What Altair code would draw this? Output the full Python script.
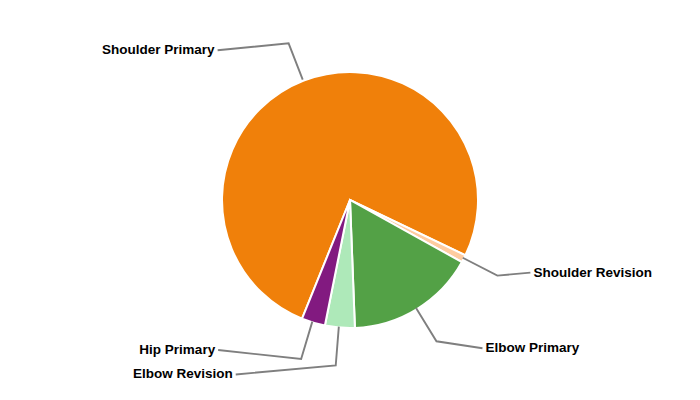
import math
import altair as alt
import pandas as pd

# ---- data ----
categories = ["Shoulder Primary", "Shoulder Revision", "Elbow Primary", "Elbow Revision", "Hip Primary"]
values = [76.0, 0.95, 16.33, 3.75, 2.97]
colors = ["#F0800A", "#FFCCA0", "#53A146", "#AEE9B9", "#821A80"]

# ---- layout ----
W, H = 684, 384
CX, CY = W / 2 - 1, H / 2 - 1
R = 128
R_ELBOW = 167
START_DEG = 202
# label anchor offsets from the elbow point (dx, dy), pixels
label_offsets = [(-71, 7), (33, -3), (46, 7), (-100, 9), (-83, -9)]

total = sum(values)
start = math.radians(START_DEG)

rows_line = []
rows_text = []
cum = 0.0
for i, (cat, v) in enumerate(zip(categories, values)):
    mid = start + (cum + v / 2) / total * 2 * math.pi
    cum += v
    sx, sy = CX + R * math.sin(mid), CY - R * math.cos(mid)
    ex, ey = CX + R_ELBOW * math.sin(mid), CY - R_ELBOW * math.cos(mid)
    dx, dy = label_offsets[i]
    lx, ly = ex + dx, ey + dy
    for k, (px, py) in enumerate([(sx, sy), (ex, ey), (lx, ly)]):
        rows_line.append({"cat": cat, "k": k, "px": px, "py": py})
    right = dx > 0
    rows_text.append({"cat": cat, "px": lx + (3 if right else -3), "py": ly, "right": right})

df = pd.DataFrame({"cat": categories, "value": values, "order": list(range(len(categories)))})
df_line = pd.DataFrame(rows_line)
df_text = pd.DataFrame(rows_text)

xs = alt.Scale(domain=[0, W], range=[0, W])
ys = alt.Scale(domain=[0, H], range=[0, H])

pie = alt.Chart(df).mark_arc(outerRadius=R, stroke="white", strokeWidth=2).encode(
    theta=alt.Theta("value:Q", stack=True,
                    scale=alt.Scale(range=[start, start + 2 * math.pi])),
    order=alt.Order("order:Q"),
    color=alt.Color("cat:N", scale=alt.Scale(domain=categories, range=colors), legend=None),
)

lines = alt.Chart(df_line).mark_line(color="#7F7F7F", strokeWidth=1.9).encode(
    x=alt.X("px:Q", scale=xs, axis=None),
    y=alt.Y("py:Q", scale=ys, axis=None),
    detail="cat:N",
    order="k:Q",
)

text_r = alt.Chart(df_text[df_text.right]).mark_text(
    align="left", baseline="middle", font="Liberation Sans", fontSize=13.5,
    fontWeight="bold", color="black"
).encode(x=alt.X("px:Q", scale=xs, axis=None), y=alt.Y("py:Q", scale=ys, axis=None), text="cat:N")

text_l = alt.Chart(df_text[~df_text.right]).mark_text(
    align="right", baseline="middle", font="Liberation Sans", fontSize=13.5,
    fontWeight="bold", color="black"
).encode(x=alt.X("px:Q", scale=xs, axis=None), y=alt.Y("py:Q", scale=ys, axis=None), text="cat:N")

chart = alt.layer(pie, lines, text_r, text_l).properties(
    width=W, height=H, padding=0, autosize=alt.AutoSizeParams(type="none")
).configure_view(stroke=None)

chart.save("out.html", embed_options={"renderer": "svg", "actions": False})
